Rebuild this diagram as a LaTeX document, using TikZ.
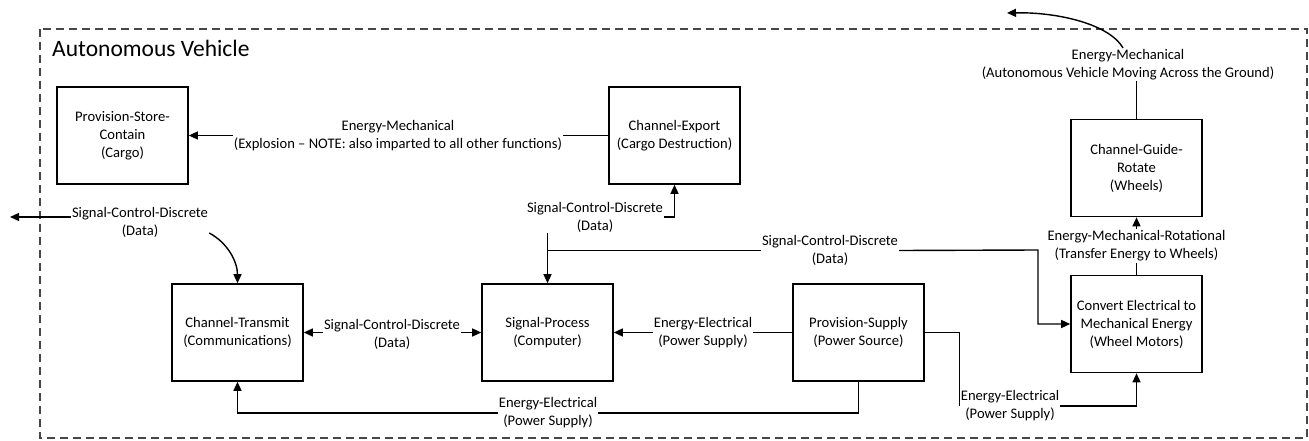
\documentclass[tikz,border=0pt]{standalone}
\usepackage{fontspec}
\setmainfont{Carlito}
\usetikzlibrary{arrows.meta}
\begin{document}
\begin{tikzpicture}[x=1pt,y=-1pt,
  box/.style={draw,line width=1.6pt,minimum width=131pt,minimum height=97pt,align=center,inner sep=2pt,font=\fontsize{14.6}{18}\selectfont},
  lbl/.style={align=center,inner sep=1pt,font=\fontsize{14.6}{18}\selectfont},
  conn/.style={line width=1.4pt},
  arr/.style={conn,-{Triangle[length=9pt,width=8pt]}},
  border/.style={dash pattern=on 8pt off 5pt,line width=1.8pt,draw=black!72}]
\useasboundingbox (0,0) rectangle (1309,441);
\draw[border] (40,29) rectangle (1307,438);
\node[anchor=base west,inner sep=0,font=\fontsize{23.5}{28}\selectfont] (title) at (52,57) {Autonomous Vehicle};

% boxes
\node[box] (psc) at (122.5,135.5) {Provision-Store-\\Contain\\(Cargo)};
\node[box] (ce) at (674.5,135.5) {Channel-Export\\(Cargo Destruction)};
\node[box] (cgr) at (1136.5,168) {Channel-Guide-\\Rotate\\(Wheels)};
\node[box] (ct) at (237.5,332.5) {Channel-Transmit\\(Communications)};
\node[box] (sp) at (547.5,332.5) {Signal-Process\\(Computer)};
\node[box] (ps) at (858.5,332.5) {Provision-Supply\\(Power Source)};
\node[box] (cv) at (1136.5,324) {Convert Electrical to\\Mechanical Energy\\(Wheel Motors)};

% labels
\node[lbl] (l1) at (398,136) {Energy-Mechanical\\(Explosion – NOTE: also imparted to all other functions)};
\node[lbl] (l2) at (595,217) {Signal-Control-Discrete\\(Data)};
\node[lbl] (l3) at (830,250.5) {Signal-Control-Discrete\\(Data)};
\node[lbl] (l4) at (1136.5,246) {Energy-Mechanical-Rotational\\(Transfer Energy to Wheels)};
\node[lbl] (l5) at (1128,64.5) {Energy-Mechanical\\(Autonomous Vehicle Moving Across the Ground)};
\node[lbl] (l6) at (140,222) {Signal-Control-Discrete\\(Data)};
\node[lbl] (l7) at (392,334) {Signal-Control-Discrete\\(Data)};
\node[lbl] (l8) at (703,332.5) {Energy-Electrical\\(Power Supply)};
\node[lbl] (l9) at (548,413) {Energy-Electrical\\(Power Supply)};
\node[lbl] (l10) at (1010,406) {Energy-Electrical\\(Power Supply)};

\coordinate (out1) at (1007,13);
\coordinate (out2) at (10,217);
\coordinate (c1) at (1038,250);

% connectors
\draw[conn] (ce.west) -- (ce.west -| l1.east);
\draw[arr] (psc.east -| l1.west) -- (psc.east);

\draw[arr] (l2.east) -| (ce.south);
\draw[arr] (l2.south -| sp.north) -- (sp.north);
\draw[conn] (l3.west) -- (l3.west -| sp.north);
\draw[arr] (l3.east) -- (c1) |- (cv.west);

\draw[conn] (cv.north) -- (l4.south);
\draw[arr] (l4.north) -- (cgr.south);

\draw[conn] (cgr.north) -- (cgr.north |- l5.south);
\draw[arr] ([xshift=-5pt]l5.north) .. controls (1110,25) and (1060,12) .. (out1);

\draw[arr] (l6.west |- out2) -- (out2);
\draw[arr] ([yshift=-11pt]l6.east) .. controls (228,243) and (237.5,262) .. (ct.north);

\draw[arr] (ct.east -| l7.west) -- (ct.east);
\draw[arr] (sp.west -| l7.east) -- (sp.west);

\draw[conn] (ps.west) -- (ps.west -| l8.east);
\draw[arr] (sp.east -| l8.west) -- (sp.east);

\draw[conn] (ps.south) |- (l9.east);
\draw[arr] (l9.west) -| (ct.south);

\draw[conn] (ps.east) -| (l10.west);
\draw[arr] (l10.east) -| (cv.south);
\end{tikzpicture}
\end{document}
